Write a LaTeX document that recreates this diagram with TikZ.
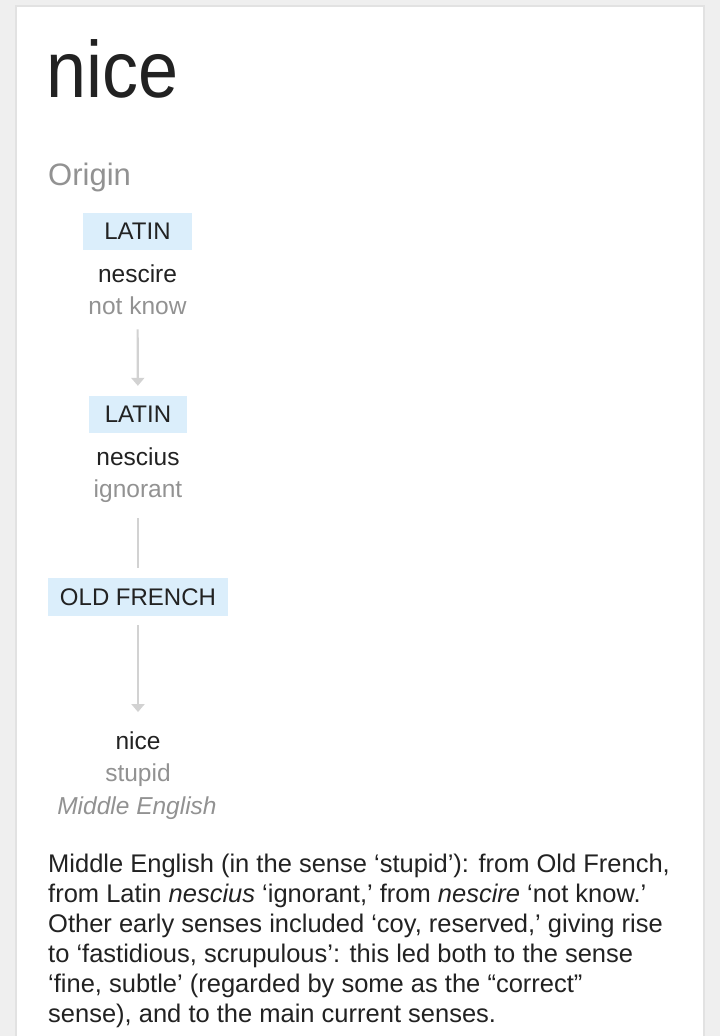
\documentclass[tikz,border=0pt]{standalone}
\usepackage{fontspec}
\setmainfont{Liberation Sans}
\newfontfamily\headfont[FakeStretch=0.9]{Liberation Sans}
\usetikzlibrary{arrows.meta,positioning,shapes}

\definecolor{pagegray}{HTML}{EFEFEF}
\definecolor{cardedge}{HTML}{E2E2E2}
\definecolor{langblue}{HTML}{DBEEFB}
\definecolor{inkdark}{HTML}{222222}
\definecolor{inkgloss}{HTML}{929292}
\definecolor{linkgray}{HTML}{D2D2D2}

\newcommand{\fsz}[2]{\fontsize{#1}{#2}\selectfont}

\tikzset{
  lang/.style={fill=langblue,text=inkdark,inner sep=0pt,minimum height=37pt,font=\fsz{24}{29}},
  word/.style={anchor=base,inner sep=0pt,text=inkdark,font=\fsz{24.5}{29}},
  gloss/.style={anchor=base,inner sep=0pt,text=inkgloss,font=\fsz{24.5}{29}},
  link/.style={draw=linkgray,line width=2.2pt,shorten <=13pt,shorten >=10pt},
  linkarrow/.style={link,-{Triangle[length=8pt,width=13pt]}}
}

\begin{document}
\begin{tikzpicture}[x=1pt,y=-1pt]
    % page and card
    \fill[pagegray] (0,0) rectangle (720,1036);
    \fill[cardedge] (15,5) rectangle (705,1036);
    \fill[white] (17,7) rectangle (703,1036);
    \useasboundingbox (0,0) rectangle (720,1036);

    \node[anchor=base west,inner sep=0pt,text=inkdark,font=\headfont\fsz{80}{96}] (title) at (46,97) {nice};
    \node[anchor=base west,inner sep=0pt,text=inkgloss,font=\fsz{31}{37}] (origin) at (48,185) {Origin};

    \node[lang,minimum width=109pt] (lang1) at (137.5,231.5) {LATIN};
    \node[word] (word1) at (137.5,282) {nescire};
    \node[gloss] (gloss1) at (137.5,314) {not know};

    \node[lang,minimum width=98pt] (lang2) at (138,414.5) {LATIN};
    \node[word] (word2) at (138,465) {nescius};
    \node[gloss] (gloss2) at (138,497) {ignorant};

    \node[lang,minimum width=180pt,minimum height=38pt] (lang3) at (138,597) {OLD FRENCH};

    \node[word] (word4) at (138,749) {nice};
    \node[gloss] (gloss4) at (138,781) {stupid};
    \node[gloss,font=\fsz{24.5}{29}\itshape] (period4) at (137,814) {Middle English};

    \draw[linkarrow,shorten <=15pt] (gloss1) -- (lang2);
    \draw[link,shorten <=16pt] (gloss2) -- (lang3);
    \draw[linkarrow,shorten <=9pt,shorten >=19pt] (lang3) -- (word4);

    % note
    \node[anchor=north west,inner sep=0pt,text=inkdark,align=left,
          font=\fsz{25.5}{30}] (note) at (48,854) {%
      Middle English (in the sense ‘stupid’): from Old French,\\
      from Latin \textit{nescius} ‘ignorant,’ from \textit{nescire} ‘not know.’\\
      Other early senses included ‘coy, reserved,’ giving rise\\
      to ‘fastidious, scrupulous’: this led both to the sense\\
      ‘fine, subtle’ (regarded by some as the “correct”\\
      sense), and to the main current senses.};
\end{tikzpicture}
\end{document}
